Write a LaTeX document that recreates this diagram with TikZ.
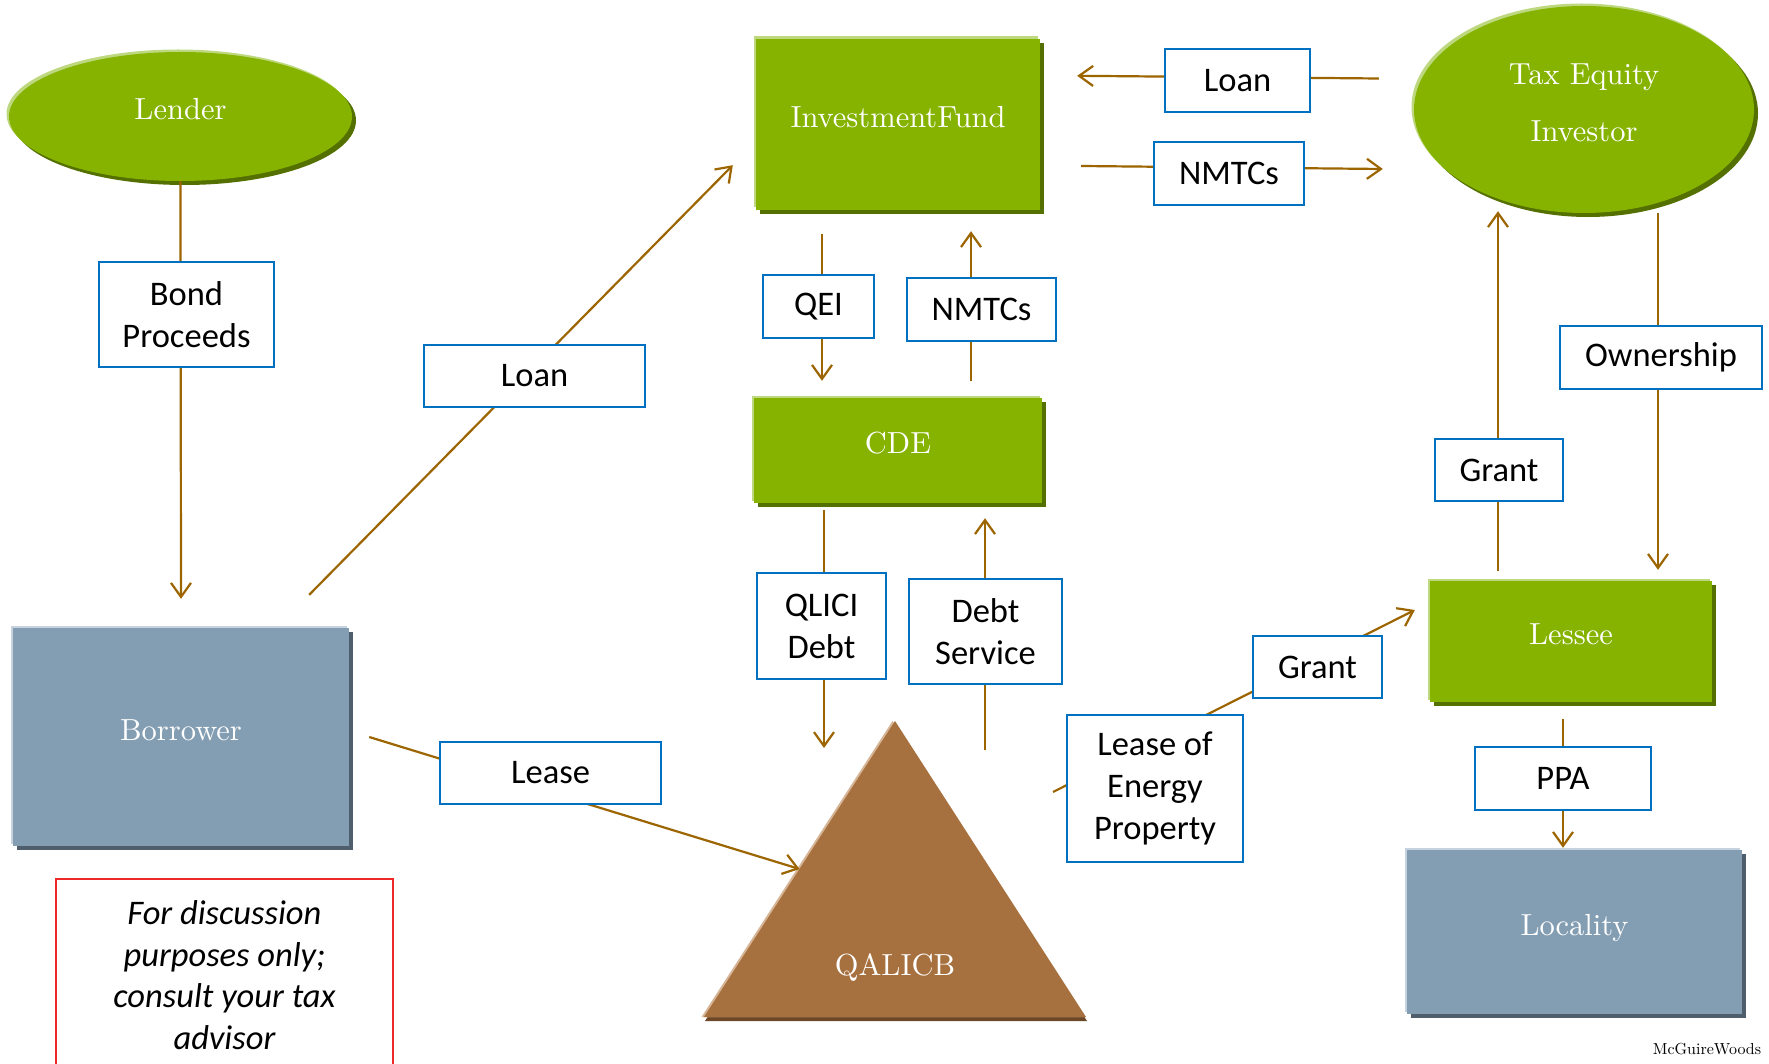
\documentclass[tikz,border=0pt]{standalone}
\usepackage{fontspec}
\newfontfamily\carlito{Carlito}
\newfontfamily\shapefont{lmroman10-regular}[Extension=.otf]
\usetikzlibrary{arrows.meta,shadows,calc,shapes.geometric}
\definecolor{grn}{RGB}{133,179,0}
\definecolor{grndk}{RGB}{84,112,0}
\definecolor{grnlt}{RGB}{190,216,128}
\definecolor{slate}{RGB}{131,157,178}
\definecolor{slatedk}{RGB}{78,94,108}
\definecolor{slatelt}{RGB}{198,211,222}
\definecolor{brn}{RGB}{166,112,63}
\definecolor{brndk}{RGB}{108,72,40}
\definecolor{brnlt}{RGB}{214,180,150}
\definecolor{conn}{RGB}{156,101,0}
\definecolor{lblue}{RGB}{0,112,192}
\definecolor{disred}{RGB}{238,40,40}
\begin{document}
\begin{tikzpicture}[x=1pt,y=-1pt,
  shapetxt/.style={text=white, font=\shapefont\fontsize{30.5}{38}\selectfont, text height=21pt, text depth=15pt, inner sep=0pt},
  box/.style={rectangle, shapetxt},
  ell/.style={ellipse, shapetxt},
  gshape/.style={fill=grn, general shadow={fill=grndk, shadow xshift=4pt, shadow yshift=-4pt}, general shadow={fill=grnlt, shadow xshift=-2.5pt, shadow yshift=2.5pt}},
  sshape/.style={fill=slate, general shadow={fill=slatedk, shadow xshift=4pt, shadow yshift=-4pt}, general shadow={fill=slatelt, shadow xshift=-2.5pt, shadow yshift=2.5pt}},
  bshape/.style={fill=brn, general shadow={fill=brndk, shadow xshift=1pt, shadow yshift=-4pt}, general shadow={fill=brnlt, shadow xshift=-2.5pt, shadow yshift=0pt}},
  lbl/.style={draw=lblue, line width=2.4pt, fill=white, inner sep=0pt, align=center, font=\carlito\fontsize{34.5}{42}\selectfont},
  arr/.style={draw=conn, line width=2.2pt, -{Straight Barb[length=14pt,width=20pt]}}
]
\useasboundingbox (0,0) rectangle (1769,1064);
\fill[white] (0,0) rectangle (1769,1064);

% main shapes
\node[ell, gshape, minimum width=343pt, minimum height=129pt] (lender) at (180.5,116.5) {Lender};
\node[ellipse, gshape, text=white, inner sep=0pt, align=center, font=\shapefont\fontsize{30.5}{57}\selectfont, text depth=14pt, minimum width=340pt, minimum height=207pt] (tei) at (1584,109.5) {Tax Equity\\Investor};
\node[box, gshape, minimum width=284pt, minimum height=171pt] (invfund) at (898,124.5) {InvestmentFund};
\node[box, gshape, minimum width=288pt, minimum height=105pt] (cde) at (898,450.5) {CDE};
\node[box, sshape, minimum width=336pt, minimum height=218pt] (borrower) at (181,737) {Borrower};
\node[box, gshape, minimum width=282pt, minimum height=121pt] (lessee) at (1571,641.5) {Lessee};
\node[box, sshape, minimum width=335pt, minimum height=164pt] (locality) at (1574.5,932) {Locality};

\coordinate (tA) at (895,721);
\coordinate (tL) at (704,1017);
\coordinate (tR) at (1086,1017);
\fill[bshape] (tA) -- (tR) -- (tL) -- cycle;
\node[shapetxt] (qalicb) at (895,972.5) {QALICB};

% connectors
\draw[arr] (lender.south) -- ($(borrower.north)+(0,-29)$);
\draw[arr] ($(borrower.north east)+(-40,-33)$) -- ($(invfund.south west)+(-23,-45)$);
\draw[arr] ($(tei.west)+(-35,-31)$) -- ($(invfund.north east)+(37,37)$);
\draw[arr] ($(invfund.east)+(41,41.5)$) -- ($(tei.west)+(-31,59.5)$);
\draw[arr] ($(invfund.south)+(-76,24)$) -- ($(cde.north)+(-76,-17)$);
\draw[arr] ($(cde.north)+(73,-17)$) -- ($(invfund.south)+(73,21)$);
\draw[arr] ($(cde.south)+(-74,7)$) -- ($(tA)+(-71,27)$);
\draw[arr] ($(tA)+(90,29)$) -- ($(cde.south)+(87,15)$);
\draw[arr] ($(borrower.east)+(20,0)$) -- ($(tA)!0.5!(tL)$);
\draw[arr] ($(tA)+(158,71)$) -- ($(lessee.west)+(-15,-31.5)$);
\draw[arr] ($(lessee.north)+(-73,-10)$) -- ($(tei.south)+(-86,-2)$);
\draw[arr] ($(tei.south)+(74,0)$) -- ($(lessee.north)+(87,-11)$);
\draw[arr] ($(lessee.south)+(-8,17)$) -- ($(locality.north)+(-11.5,-2)$);

% labels
\node[lbl, minimum width=175pt, minimum height=105pt] (bond) at (186.5,314.5) {Bond\\Proceeds};
\node[lbl, minimum width=221pt, minimum height=62pt] (loanL) at (534.5,376) {Loan};
\node[lbl, minimum width=145pt, minimum height=63pt] (loanT) at (1237.5,80.5) {Loan};
\node[lbl, minimum width=150pt, minimum height=63pt] (nmtcT) at (1229,173.5) {NMTCs};
\node[lbl, minimum width=111pt, minimum height=63pt] (qei) at (818.5,306.5) {QEI};
\node[lbl, minimum width=149pt, minimum height=63pt] (nmtcM) at (981.5,309.5) {NMTCs};
\node[lbl, minimum width=129pt, minimum height=106pt] (qlici) at (821.5,626) {QLICI\\Debt};
\node[lbl, minimum width=153pt, minimum height=105pt] (debtsvc) at (985.5,631.5) {Debt\\Service};
\node[lbl, minimum width=221pt, minimum height=62pt] (lease) at (550.5,773) {Lease};
\node[lbl, minimum width=176pt, minimum height=147pt] (leaseep) at (1155,788.5) {Lease of\\Energy\\Property};
\node[lbl, minimum width=129pt, minimum height=62pt] (grantM) at (1317.5,667) {Grant};
\node[lbl, minimum width=128pt, minimum height=62pt] (grantR) at (1499,470) {Grant};
\node[lbl, minimum width=202pt, minimum height=63pt] (owner) at (1661,357.5) {Ownership};
\node[lbl, minimum width=176pt, minimum height=63pt] (ppa) at (1563,778.5) {PPA};

% disclaimer
\draw[disred, line width=2.4pt] (56,1075) -- (56,879) -- (393,879) -- (393,1075);
\node[font=\carlito\itshape\fontsize{34.5}{41.5}\selectfont, align=center, inner sep=0pt] (disc) at (224.5,975) {For discussion\\purposes only;\\consult your tax\\advisor};

\node[font=\shapefont\fontsize{16}{18}\selectfont, inner sep=0pt] (mw) at (1707,1049) {McGuireWoods};
\end{tikzpicture}
\end{document}
